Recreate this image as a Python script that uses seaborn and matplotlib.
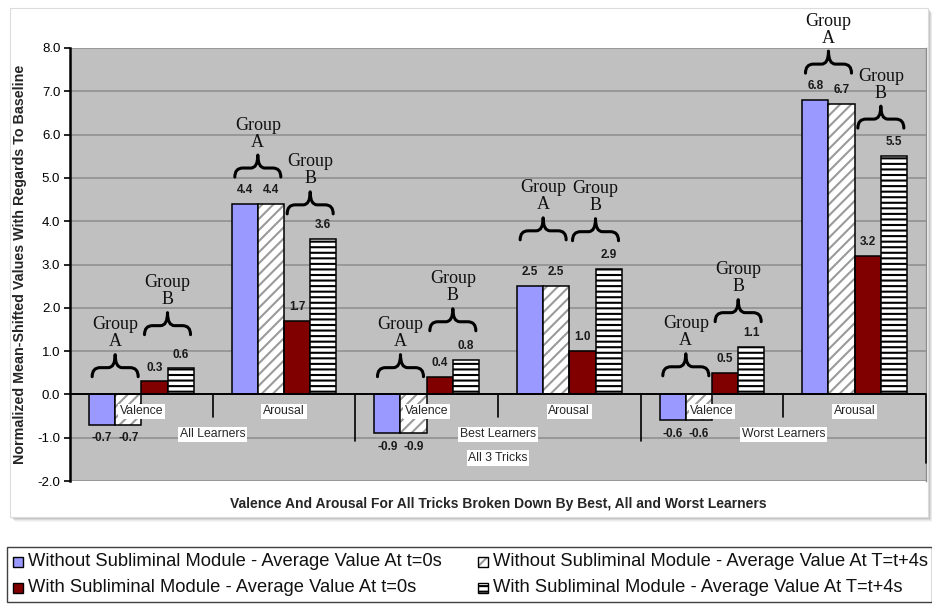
import numpy as np
import pandas as pd
import seaborn as sns
import matplotlib.pyplot as plt
from matplotlib.patches import Rectangle, PathPatch
from matplotlib.path import Path

# ---- data -------------------------------------------------------------
learner_groups = ["All Learners", "Best Learners", "Worst Learners"]
measures = ["Valence", "Arousal"]
trick_label = "All 3 Tricks"
series = [
    "Without Subliminal Module - Average Value At t=0s",
    "Without Subliminal Module - Average Value At T=t+4s",
    "With Subliminal Module - Average Value At t=0s",
    "With Subliminal Module - Average Value At T=t+4s",
]
# ordered All/Valence, All/Arousal, Best/Valence, Best/Arousal, Worst/Valence, Worst/Arousal
without_t0 = [-0.7, 4.4, -0.9, 2.5, -0.6, 6.8]
without_t4 = [-0.7, 4.4, -0.9, 2.5, -0.6, 6.7]
with_t0 = [0.3, 1.7, 0.4, 1.0, 0.5, 3.2]
with_t4 = [0.6, 3.6, 0.8, 2.9, 1.1, 5.5]
y_ticks = [-2.0, -1.0, 0.0, 1.0, 2.0, 3.0, 4.0, 5.0, 6.0, 7.0, 8.0]

# height (in axis units) of the foot of each "Group" brace, per category
brace_foot_a = [0.41, 5.02, 0.41, 3.57, 0.43, 7.42]
brace_foot_b = [1.38, 4.17, 1.47, 3.55, 1.68, 6.15]

# ---- table --------------------------------------------------------------
categories = [f"{g}|{m}" for g in learner_groups for m in measures]
values = [without_t0, without_t4, with_t0, with_t4]
df = pd.DataFrame({
    "category": categories * len(series),
    "series": np.repeat(series, len(categories)),
    "value": np.concatenate(values),
})

# ---- styling ------------------------------------------------------------
sns.set_style("white")
plt.rcParams["font.family"] = ["Liberation Sans", "DejaVu Sans"]
plt.rcParams["hatch.linewidth"] = 1.5

W, H = 932, 606
fig = plt.figure(figsize=(W / 100, H / 100), dpi=100)


def fx(px):
    return px / W


def fy(py):
    return 1 - py / H


blue = "#9999ff"
dark_red = "#800000"
palette = [blue, "#ffffff", dark_red, "#ffffff"]

# chart-area box with a soft drop shadow
for i, a in zip(range(5, 0, -1), [0.05, 0.08, 0.12, 0.16, 0.2]):
    fig.patches.append(Rectangle((fx(10 + i), fy(517 + i)), fx(918), 509 / H,
                                 transform=fig.transFigure, facecolor="#606060",
                                 edgecolor="none", alpha=a, zorder=-2))
fig.patches.append(Rectangle((fx(10), fy(517)), fx(918), 509 / H,
                             transform=fig.transFigure, facecolor="white",
                             edgecolor="#dcdcdc", lw=0.8, zorder=-1))

ax = fig.add_axes([fx(70), fy(481), fx(926) - fx(70), fy(48) - fy(481)])
ax.set_zorder(2)
ax.set_facecolor("#c0c0c0")

sns.barplot(data=df, x="category", y="value", hue="series", order=categories,
            hue_order=series, palette=palette, saturation=1, width=0.734,
            gap=0, edgecolor="black", linewidth=1.1, legend=False, ax=ax,
            zorder=3, err_kws={"linewidth": 0})

ax.set_xlim(-0.5, len(categories) - 0.5)
ax.set_ylim(-2, 8)

# hatching: light grey diagonals, black horizontal stripes
for bar in ax.containers[1]:
    bar.set_hatch("///")
    bar.set_edgecolor("#9a9a9a")
    bar.set_linewidth(0)
    ax.add_patch(Rectangle(bar.get_xy(), bar.get_width(), bar.get_height(),
                           fill=False, edgecolor="black", lw=1.1, zorder=3.5))
for bar in ax.containers[3]:
    bar.set_hatch("---")
    bar.set_edgecolor("black")

# value labels
for cont, vals in zip(ax.containers, values):
    for bar, v in zip(cont, vals):
        cx = bar.get_x() + bar.get_width() / 2
        off = 10.0 if v >= 0 else -9.5
        ax.annotate(f"{v:.1f}", xy=(cx, v), xytext=(0, off),
                    textcoords="offset points", ha="center", va="center",
                    fontsize=8.5, fontweight="bold", color="#1a1a1a", zorder=6)

# grid, spines, ticks
ax.set_axisbelow(True)
ax.yaxis.grid(True, color="#8c8c8c", lw=1.1)
ax.set_yticks(y_ticks)
ax.set_yticklabels([f"{v:.1f}" for v in y_ticks])
ax.tick_params(axis="y", direction="out", length=4, width=1.2, pad=3,
               labelsize=9.5, colors="black", left=True)
ax.set_xticks([])
ax.set_xlabel("")
ax.set_ylabel("")
for s in ["top", "bottom"]:
    ax.spines[s].set_visible(False)
ax.spines["left"].set_color("black")
ax.spines["left"].set_linewidth(1.8)
ax.spines["right"].set_color("#8c8c8c")
ax.spines["right"].set_linewidth(1.0)

# category axis at zero with multi-level dividers
ax.axhline(0, color="black", lw=1.4, zorder=4)
for b in [0.5, 2.5, 4.5]:
    ax.plot([b, b], [0, -0.53], color="black", lw=1.2, zorder=4)
for b in [1.5, 3.5]:
    ax.plot([b, b], [0, -1.08], color="black", lw=1.2, zorder=4)
ax.plot([5.5, 5.5], [0, -1.59], color="black", lw=1.2, zorder=4, clip_on=False)

box = dict(facecolor="white", edgecolor="none", pad=1.2)
for i, cat in enumerate(categories):
    ax.text(i, -0.39, cat.split("|")[1], ha="center", va="center",
            fontsize=8.8, bbox=box, zorder=5)
for j, g in enumerate(learner_groups):
    ax.text(2 * j + 0.5, -0.92, g, ha="center", va="center", fontsize=8.8,
            bbox=box, zorder=5)
ax.text(2.5, -1.47, trick_label, ha="center", va="center", fontsize=8.8,
        bbox=box, zorder=5)

# "Group A" / "Group B" braces
px_y = 433.0 / 10.0      # pixels per axis unit (vertical)
px_x = 856.0 / 6.0       # pixels per category (horizontal)


def draw_brace(xc, foot, label):
    hw = 23 / px_x
    r = 8 / px_x
    rc = 7 / px_x
    ya = foot + 9 / px_y
    yt = foot + 22 / px_y
    x0, x1 = xc - hw, xc + hw
    verts = [(x0, foot), (x0, ya), (x0 + r, ya), (xc - rc, ya),
             (xc, ya), (xc, yt), (xc, ya), (xc + rc, ya),
             (x1 - r, ya), (x1, ya), (x1, foot)]
    codes = [Path.MOVETO, Path.CURVE3, Path.CURVE3, Path.LINETO,
             Path.CURVE3, Path.CURVE3, Path.CURVE3, Path.CURVE3,
             Path.LINETO, Path.CURVE3, Path.CURVE3]
    ax.add_patch(PathPatch(Path(verts, codes), fill=False, edgecolor="black",
                           lw=2.2, capstyle="round", joinstyle="round",
                           zorder=6, clip_on=False))
    ax.annotate(f"Group\n{label}", xy=(xc, yt), xytext=(0, 15.5),
                textcoords="offset points", ha="center", va="center",
                family=["Liberation Serif", "DejaVu Serif"], fontsize=13,
                linespacing=1.0, color="#111111", zorder=6,
                annotation_clip=False)


for i in range(len(categories)):
    a0, a1 = ax.containers[0][i], ax.containers[1][i]
    b0, b1 = ax.containers[2][i], ax.containers[3][i]
    xa = (a0.get_x() + a1.get_x() + a1.get_width()) / 2
    xb = (b0.get_x() + b1.get_x() + b1.get_width()) / 2
    draw_brace(xa, brace_foot_a[i], "A")
    draw_brace(xb, brace_foot_b[i], "B")

# axis titles
fig.text(fx(20), fy(264), "Normalized Mean-Shifted Values With Regards To Baseline",
         rotation=90, ha="center", va="center", fontsize=10.3, fontweight="bold")
fig.text(fx(498), fy(504),
         "Valence And Arousal For All Tricks Broken Down By Best, All and Worst Learners",
         ha="center", va="center", fontsize=10, fontweight="bold")

# legend box
fig.patches.append(Rectangle((fx(7), fy(602)), fx(924.5), 55 / H,
                             transform=fig.transFigure, facecolor="white",
                             edgecolor="#404040", lw=1.0, zorder=1))
legend_spots = [(13, 562), (478, 562), (13, 588), (478, 588)]
legend_hatch = [None, "///", None, "---"]
legend_edge = ["black", "#9a9a9a", "black", "black"]
for name, face, hatch, ec, (lx, ly) in zip(series, palette, legend_hatch,
                                           legend_edge, legend_spots):
    s = 10
    fig.patches.append(Rectangle((fx(lx), fy(ly + s / 2)), fx(s), s / H,
                                 transform=fig.transFigure, facecolor=face,
                                 hatch=hatch, edgecolor=ec, lw=0 if ec != "black" else 1.0,
                                 zorder=2))
    if ec != "black":
        fig.patches.append(Rectangle((fx(lx), fy(ly + s / 2)), fx(s), s / H,
                                     transform=fig.transFigure, fill=False,
                                     edgecolor="black", lw=1.0, zorder=2.5))
    fig.text(fx(lx + 15), fy(ly), name, ha="left", va="center",
             fontsize=13.2, color="#111111", zorder=3)

fig.savefig("out.png", dpi=100, facecolor="white")
